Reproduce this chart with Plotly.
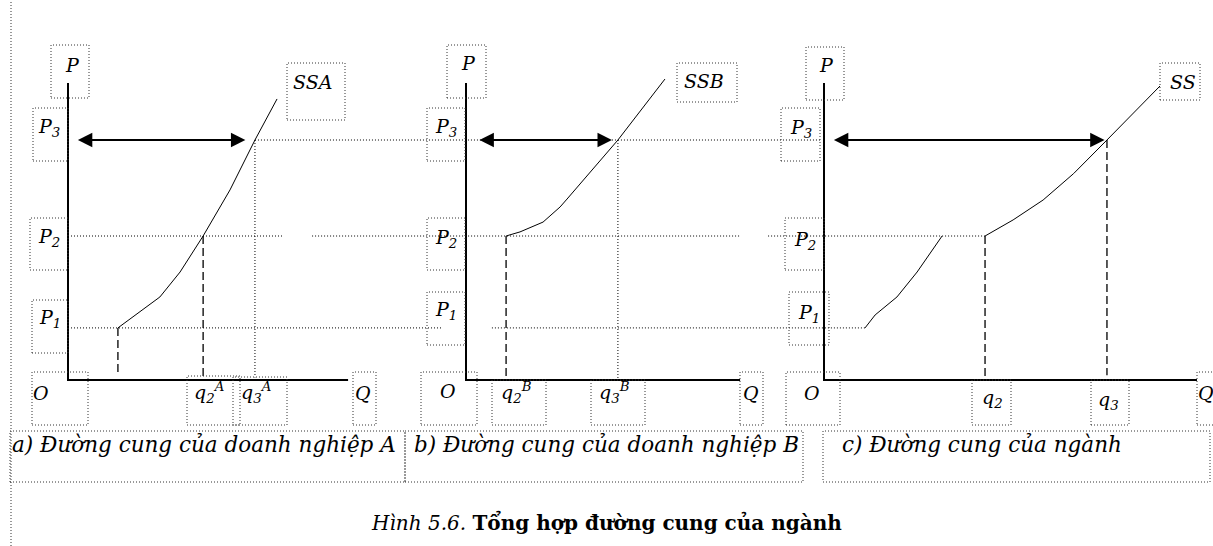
import plotly.graph_objects as go

# ---- data (chart units: Q along x, P along y) ----
P_LEVELS = [2.17, 6.0, 10.0]          # P1, P2, P3

SSA_Q = [2.08, 2.71, 3.83, 4.67, 5.63, 6.75, 7.79, 8.71]
SSA_P = [2.17, 2.63, 3.46, 4.5, 6.0, 7.92, 10.0, 11.71]

SSB_Q = [1.67, 2.25, 3.21, 3.92, 4.21, 6.33, 8.29]
SSB_P = [6.0, 6.17, 6.58, 7.21, 7.54, 10.0, 12.54]

SS1_Q = [1.71, 2.13, 3.04, 3.88, 4.92]
SS1_P = [2.17, 2.71, 3.46, 4.5, 6.0]
SS2_Q = [6.71, 7.88, 9.13, 10.4, 11.79, 13.17, 14.0]
SS2_P = [6.0, 6.67, 7.5, 8.6, 10.0, 11.38, 12.25]

Q_A = [2.08, 5.63, 7.79]     # q1A, q2A, q3A
Q_B = [1.67, 6.33]           # q2B, q3B
Q_C = [6.71, 11.79]          # q2, q3
P_MAX = 12.375
Q_MAX = {'A': 11.67, 'B': 11.42, 'C': 15.54}

CAPTIONS = ['a) Đường cung của doanh nghiệp A',
            'b) Đường cung của doanh nghiệp B',
            'c) Đường cung của ngành']
TITLE = '<i>Hình 5.6.</i> <b>Tổng hợp đường cung của ngành</b>'

# ---- layout helpers (pixels) ----
W, H = 1213, 546
S = 24.0                      # px per unit
Y0 = 380                      # pixel row of P = 0
ORIGIN = {'A': 68, 'B': 466, 'C': 824}
AX = {'A': 'x', 'B': 'x2', 'C': 'x3'}

def toA(panel, q):
    return (ORIGIN[panel] + S * q - ORIGIN['A']) / S

def px(x):
    return x / W

def py(y):
    return 1 - y / H

DOT = '1px,2px'
DASH = '8px,4px'

fig = go.Figure()

def line(panel, xs, ys, dash='solid', width=1.0):
    fig.add_trace(go.Scatter(x=xs, y=ys, mode='lines', xaxis=AX[panel], yaxis='y',
                             line=dict(color='black', width=width, dash=dash),
                             hoverinfo='skip', showlegend=False))

P1, P2, P3 = P_LEVELS

# horizontal dotted guides running across panels
line('A', [0, toA('B', -0.96)], [P1, P1], DOT)
line('A', [toA('B', 1.08), toA('C', SS1_Q[0])], [P1, P1], DOT)
line('A', [0, 8.96], [P2, P2], DOT)
line('A', [10.17, toA('B', Q_MAX['B'])], [P2, P2], DOT)
line('A', [toA('C', -2.33), toA('C', Q_C[0])], [P2, P2], DOT)
line('A', [Q_A[2], toA('C', -0.1)], [P3, P3], DOT)

# vertical guides
line('A', [Q_A[0], Q_A[0]], [P1, 0.33], DASH, 1.3)
line('A', [Q_A[1], Q_A[1]], [P2, 0.17], DASH, 1.3)
line('A', [Q_A[2], Q_A[2]], [P3, 0.1], DOT)
line('B', [Q_B[0], Q_B[0]], [P2, 0], DASH, 1.3)
line('B', [Q_B[1], Q_B[1]], [P3, 0], DOT)
line('C', [Q_C[0], Q_C[0]], [P2, 0], DASH, 1.3)
line('C', [Q_C[1], Q_C[1]], [P3, 0.2], DASH, 1.3)

# axes
for pnl in 'ABC':
    line(pnl, [0, 0, Q_MAX[pnl]], [P_MAX, 0, 0], width=2)

# supply curves
line('A', SSA_Q, SSA_P)
line('B', SSB_Q, SSB_P)
line('C', SS1_Q, SS1_P)
line('C', SS2_Q, SS2_P)

annotations = []

# double arrows at P3
for pnl, q0, q1 in [('A', 0.35, Q_A[2] - 0.4), ('B', 0.5, Q_B[1] - 0.25),
                    ('C', 0.35, Q_C[1] - 0.1)]:
    annotations.append(dict(x=q1, y=P3, ax=q0, ay=P3, xref=AX[pnl], yref='y',
                            axref=AX[pnl], ayref='y', text='', showarrow=True,
                            arrowside='end+start', arrowhead=2, startarrowhead=2,
                            arrowsize=1.6, startarrowsize=1.6, arrowwidth=1.8,
                            arrowcolor='black'))

# dotted label frames (pixels: x0, y0, x1, y1)
BOXES = [
    (51, 45, 89, 98), (287, 63, 345, 120), (33, 108, 68, 161), (30, 218, 68, 270),
    (32, 300, 68, 353), (32, 372, 88, 425), (187, 376, 240, 425), (233, 377, 287, 425),
    (353, 372, 376, 425),
    (447, 45, 486, 98), (677, 63, 737, 102), (427, 108, 465, 161), (427, 218, 465, 270),
    (427, 292, 465, 345), (421, 372, 477, 425), (492, 380, 546, 425), (591, 380, 645, 425),
    (740, 372, 763, 425),
    (806, 47, 844, 100), (1160, 63, 1200, 100), (781, 108, 820, 161), (785, 218, 824, 270),
    (789, 292, 829, 345), (786, 372, 840, 425), (972, 380, 1011, 425), (1091, 380, 1129, 425),
    (1197, 372, 1220, 425),
    (10, 431, 405, 482), (405, 431, 803, 482), (823, 431, 1210, 482),
]
shapes = []
for x0, y0, x1, y1 in BOXES:
    shapes.append(dict(type='rect', xref='paper', yref='paper',
                       x0=px(x0), x1=px(x1), y0=py(y1), y1=py(y0),
                       line=dict(color='#333', width=1, dash=DOT)))
shapes.append(dict(type='line', xref='paper', yref='paper', x0=px(11), x1=px(11),
                   y0=0, y1=1, line=dict(color='#333', width=1, dash=DOT)))

LABELS = [
    ('P', 72, 65), ('SSA', 312, 82), ('P<sub>3</sub>', 49, 127), ('P<sub>2</sub>', 49, 237),
    ('P<sub>1</sub>', 50, 318), ('O', 41, 393), ('q<sub>2</sub><sup>A</sup>', 209, 392),
    ('q<sub>3</sub><sup>A</sup>', 256, 392), ('Q', 363, 393),
    ('P', 468, 63), ('SSB', 704, 81), ('P<sub>3</sub>', 446, 127), ('P<sub>2</sub>', 446, 238),
    ('P<sub>1</sub>', 446, 310), ('O', 448, 391), ('q<sub>2</sub><sup>B</sup>', 516, 392),
    ('q<sub>3</sub><sup>B</sup>', 615, 392), ('Q', 751, 393),
    ('P', 826, 65), ('SS', 1183, 82), ('P<sub>3</sub>', 801, 128), ('P<sub>2</sub>', 805, 240),
    ('P<sub>1</sub>', 809, 313), ('O', 812, 393), ('q<sub>2</sub>', 992, 398),
    ('q<sub>3</sub>', 1108, 400), ('Q', 1206, 393),
]
for txt, x, y in LABELS:
    annotations.append(dict(text=txt, x=px(x), y=py(y), xref='paper', yref='paper',
                            showarrow=False, xanchor='center', yanchor='middle',
                            font=dict(family='DejaVu Serif', size=19, color='black',
                                      style='italic')))

for txt, x in zip(CAPTIONS, [10, 412, 840]):
    annotations.append(dict(text=txt, x=px(x), y=py(444), xref='paper', yref='paper',
                            showarrow=False, xanchor='left', yanchor='middle',
                            font=dict(family='DejaVu Serif', size=21.5, color='black',
                                      style='italic')))

annotations.append(dict(text=TITLE, x=px(607), y=py(522), xref='paper', yref='paper',
                        showarrow=False, xanchor='center', yanchor='middle',
                        font=dict(family='DejaVu Serif', size=20, color='black')))

axis_style = dict(visible=False, showgrid=False, zeroline=False, fixedrange=True,
                  domain=[0, 1])
fig.update_layout(
    width=W, height=H, margin=dict(l=0, r=0, t=0, b=0),
    paper_bgcolor='white', plot_bgcolor='white', showlegend=False,
    xaxis=dict(range=[-ORIGIN['A'] / S, (W - ORIGIN['A']) / S], **axis_style),
    xaxis2=dict(range=[-ORIGIN['B'] / S, (W - ORIGIN['B']) / S], overlaying='x',
                **axis_style),
    xaxis3=dict(range=[-ORIGIN['C'] / S, (W - ORIGIN['C']) / S], overlaying='x',
                **axis_style),
    yaxis=dict(range=[-(H - Y0) / S, Y0 / S], visible=False, showgrid=False,
               zeroline=False, fixedrange=True),
    shapes=shapes, annotations=annotations,
)

# drop the default 8px page margin so the figure sits at the window's corner
fig.write_html('out.html', config={'displayModeBar': False},
               post_script="document.body.style.margin='0';")
